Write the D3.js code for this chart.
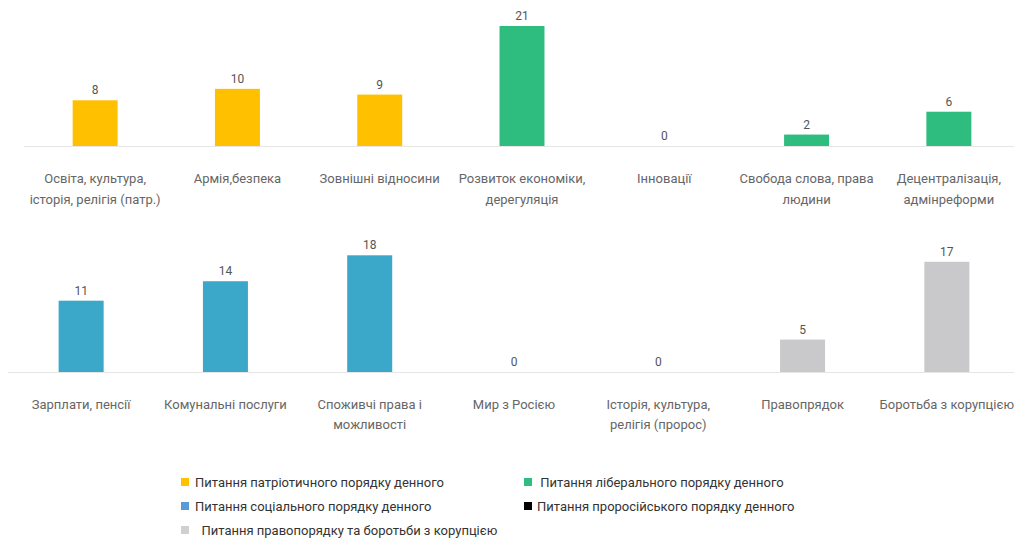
<!DOCTYPE html>
<html>
<head>
<meta charset="utf-8">
<script src="https://cdn.jsdelivr.net/npm/d3@7/dist/d3.min.js"></script>
<style>
  html, body { margin: 0; padding: 0; background: #fff; }
  svg { display: block; font-family: Roboto, "Noto Sans", sans-serif; }
  text { white-space: pre; }
</style>
</head>
<body>
<svg id="chart" width="1014" height="540"></svg>
<script>
// ---- data ----
const topCategories = [
  ["Освіта, культура,", "історія, релігія (патр.)"],
  ["Армія,безпека"],
  ["Зовнішні відносини"],
  ["Розвиток економіки,", "дерегуляція"],
  ["Інновації"],
  ["Свобода слова, права", "людини"],
  ["Децентралізація,", "адмінреформи"]
];
const topValues = [8, 10, 9, 21, 0, 2, 6];
const topGroups = [0, 0, 0, 1, 1, 1, 1];

const bottomCategories = [
  ["Зарплати, пенсії"],
  ["Комунальні послуги"],
  ["Споживчі права і", "можливості"],
  ["Мир з Росією"],
  ["Історія, культура,", "релігія (пророс)"],
  ["Правопрядок"],
  ["Боротьба з корупцією"]
];
const bottomValues = [11, 14, 18, 0, 0, 5, 17];
const bottomGroups = [2, 2, 2, 3, 3, 4, 4];

const groupColors = ["#FFC000", "#2EBD7E", "#3BA8C9", "#000000", "#C9C9CC"];

const legendLabels = [
  "Питання патріотичного порядку денного",
  " Питання ліберального порядку денного",
  "Питання соціального порядку денного",
  "Питання проросійського порядку денного",
  "  Питання правопорядку та боротьби з корупцією"
];
const legendColors = ["#FFC000", "#2EBD7E", "#5B9BD5", "#000000", "#D0D0D0"];

// ---- drawing ----
const svg = d3.select("#chart");

function drawRow(cfg) {
  const g = svg.append("g");
  const idx = d3.range(cfg.values.length);
  const x = d3.scaleBand().domain(idx).range(cfg.xRange)
    .paddingInner(cfg.padIn).paddingOuter(cfg.padIn / 2);
  const y = d3.scaleLinear().domain([0, cfg.yMax]).range([cfg.baseline, cfg.topY]);

  g.append("line")
    .attr("x1", cfg.lineX0).attr("x2", 1014)
    .attr("y1", y(0) + 0.5).attr("y2", y(0) + 0.5)
    .attr("stroke", "#e6e6e6").attr("stroke-width", 1);

  g.selectAll("rect.bar").data(idx).join("rect")
    .attr("class", "bar")
    .attr("x", i => x(i))
    .attr("width", x.bandwidth())
    .attr("y", i => y(cfg.values[i]))
    .attr("height", i => y(0) - y(cfg.values[i]))
    .attr("fill", i => groupColors[cfg.groups[i]]);

  g.selectAll("text.val").data(idx).join("text")
    .attr("class", "val")
    .attr("x", i => x(i) + x.bandwidth() / 2)
    .attr("y", i => y(cfg.values[i]) - 6)
    .attr("text-anchor", "middle")
    .attr("font-size", 12)
    .attr("fill", "#555")
    .text(i => cfg.values[i]);

  const cat = g.selectAll("text.cat").data(idx).join("text")
    .attr("class", "cat")
    .attr("text-anchor", "middle")
    .attr("font-size", 13)
    .attr("fill", "#666");
  cat.each(function(i) {
    d3.select(this).selectAll("tspan").data(cfg.cats[i]).join("tspan")
      .attr("x", x(i) + x.bandwidth() / 2)
      .attr("y", (d, k) => cfg.labelY + k * cfg.lineH)
      .text(d => d);
  });
}

drawRow({
  values: topValues, groups: topGroups, cats: topCategories,
  xRange: [24, 1020], padIn: 0.684, yMax: 21,
  baseline: 146, topY: 26, lineX0: 24, labelY: 183, lineH: 21
});
drawRow({
  values: bottomValues, groups: bottomGroups, cats: bottomCategories,
  xRange: [9, 1019], padIn: 0.688, yMax: 18,
  baseline: 372, topY: 255.3, lineX0: 8, labelY: 409, lineH: 20
});

// legend
const legPos = [[181, 482], [524, 482], [181, 506], [524, 506], [181, 530]];
const leg = svg.append("g");
const li = leg.selectAll("g").data(d3.range(legendLabels.length)).join("g")
  .attr("transform", i => `translate(${legPos[i][0]},${legPos[i][1]})`);
li.append("rect").attr("x", 0).attr("y", -4).attr("width", 8).attr("height", 8)
  .attr("fill", i => legendColors[i]);
li.append("text").attr("x", i => legPos[i][0] > 300 ? 13 : 14).attr("y", 4.5)
  .attr("font-size", 13).attr("fill", "#333")
  .text(i => legendLabels[i]);
</script>
</body>
</html>
